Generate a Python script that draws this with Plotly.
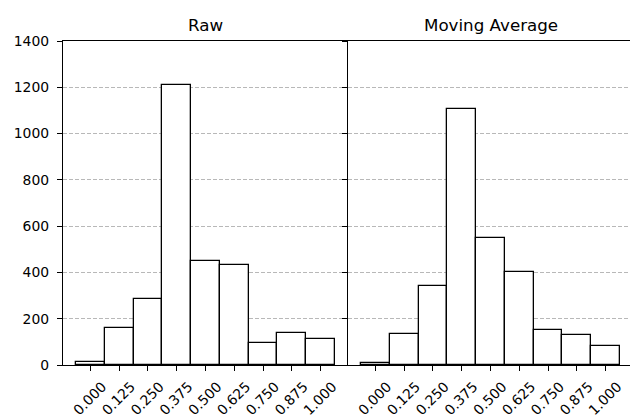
import plotly.graph_objects as go
from plotly.subplots import make_subplots

tick_labels = ["0.000", "0.125", "0.250", "0.375", "0.500", "0.625", "0.750", "0.875", "1.000"]
raw_counts = [13, 160, 286, 1210, 448, 430, 93, 139, 112]
ma_counts = [10, 136, 342, 1105, 548, 404, 151, 131, 80]
titles = ["Raw", "Moving Average"]

positions = list(range(len(tick_labels)))

fig = make_subplots(rows=1, cols=2, shared_yaxes=True, horizontal_spacing=0)

for i, counts in enumerate([raw_counts, ma_counts]):
    fig.add_trace(go.Bar(
        x=positions, y=counts, width=1.0,
        marker=dict(color="white", line=dict(color="black", width=1.3)),
        showlegend=False,
    ), row=1, col=i + 1)

# The page body has an 8px default margin, so the figure is offset by 8px.
font = dict(family="DejaVu Sans", size=13.9, color="black")
fig.update_layout(
    width=630, height=409,
    margin=dict(l=55, r=5, t=33, b=52),
    paper_bgcolor="white", plot_bgcolor="white",
    font=font, bargap=0,
)
for i in (1, 2):
    fig.update_xaxes(
        row=1, col=i, automargin=False,
        range=[-0.95, 8.95], tickmode="array", tickvals=positions, ticktext=tick_labels,
        tickangle=-45, ticks="outside", ticklen=5, tickcolor="black", tickwidth=1.2,
        ticklabelshift=12, ticklabelstandoff=2,
        showline=True, linecolor="black", linewidth=1.3, mirror=True,
        showgrid=False, zeroline=False,
    )
    fig.update_yaxes(
        row=1, col=i, automargin=False,
        range=[0, 1400], tickvals=[0, 200, 400, 600, 800, 1000, 1200, 1400],
        ticks="outside", ticklen=5, tickcolor="black", tickwidth=1.2,
        ticklabelstandoff=5,
        showline=True, linecolor="black", linewidth=1.3, mirror=(i == 2),
        showgrid=True, gridcolor="#b8b8b8", griddash="4px,2px", gridwidth=1,
        zeroline=False, showticklabels=(i == 1),
    )

for i, t in enumerate(titles):
    xref = "x domain" if i == 0 else "x2 domain"
    fig.add_annotation(text=t, x=0.5, y=1, xref=xref, yref="paper",
                       xanchor="center", yanchor="bottom", yshift=4,
                       showarrow=False, font=dict(family="DejaVu Sans", size=16.7, color="black"))

fig.write_html("out.html")
